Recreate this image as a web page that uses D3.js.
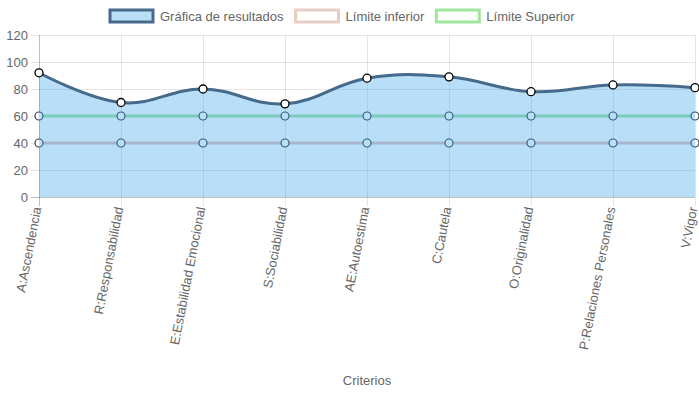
<!DOCTYPE html>
<html>
<head>
<meta charset="utf-8">
<script src="https://cdn.jsdelivr.net/npm/d3@7"></script>
<style>
  body { margin: 0; background: #fff; }
  text { font-family: "Liberation Sans", Arial, Helvetica, sans-serif; }
</style>
</head>
<body>
<div id="chart"></div>
<script>
var categories = ['A:Ascendencia', 'R:Responsabilidad', 'E:Estabilidad Emocional', 'S:Sociabilidad',
	'AE:Autoestima', 'C:Cautela', 'O:Originalidad', 'P:Relaciones Personales', 'V:Vigor'];
var resultados = [92, 70, 80, 69, 88, 89, 78, 83, 81];
var limiteInferior = [40, 40, 40, 40, 40, 40, 40, 40, 40];
var limiteSuperior = [60, 60, 60, 60, 60, 60, 60, 60, 60];
var yTicks = [0, 20, 40, 60, 80, 100, 120];
var legendNames = ['Gráfica de resultados', 'Límite inferior', 'Límite Superior'];

var W = 699, H = 393;
var margins = {top: 35, right: 4, bottom: 196, left: 39};
var fontSize = 13;

var svg = d3.select('#chart').append('svg')
	.attr('width', W)
	.attr('height', H);

var xscale = d3.scalePoint().domain(categories).range([margins.left, W - margins.right]);
var yscale = d3.scaleLinear().domain([0, 120]).range([H - margins.bottom, margins.top]);

// grid
var grid = svg.append('g');
grid.selectAll('line.h').data(yTicks).enter().append('line')
	.attr('x1', margins.left - 8)
	.attr('x2', W - margins.right)
	.attr('y1', function(d) { return yscale(d) + 0.5; })
	.attr('y2', function(d) { return yscale(d) + 0.5; })
	.style('stroke', function(d) { return d === 0 ? 'rgba(0,0,0,0.25)' : 'rgba(0,0,0,0.1)'; });
grid.selectAll('line.v').data(categories).enter().append('line')
	.attr('x1', function(d) { return xscale(d) + 0.5; })
	.attr('x2', function(d) { return xscale(d) + 0.5; })
	.attr('y1', margins.top)
	.attr('y2', yscale(0) + 9)
	.style('stroke', function(d, i) { return i === 0 ? 'rgba(0,0,0,0.25)' : 'rgba(0,0,0,0.1)'; });

// y labels
svg.append('g').selectAll('text').data(yTicks).enter().append('text')
	.attr('x', margins.left - 11)
	.attr('y', function(d) { return yscale(d); })
	.attr('dy', '0.35em')
	.attr('text-anchor', 'end')
	.style('font-size', fontSize + 'px')
	.style('fill', '#666')
	.text(function(d) { return d; });

// x labels, rotated
svg.append('g').selectAll('text').data(categories).enter().append('text')
	.attr('transform', function(d) {
		return 'translate(' + (xscale(d) - 2) + ',' + (yscale(0) + 10) + ') rotate(-79)';
	})
	.attr('text-anchor', 'end')
	.attr('dy', '0.35em')
	.style('font-size', fontSize + 'px')
	.style('fill', '#666')
	.text(function(d) { return d; });

svg.append('text')
	.attr('x', (margins.left + W - margins.right) / 2)
	.attr('y', 385)
	.attr('text-anchor', 'middle')
	.style('font-size', fontSize + 'px')
	.style('fill', '#666')
	.text('Criterios');

var curve = d3.curveCardinal.tension(-0.2);
var line = d3.line()
	.x(function(d, i) { return xscale(categories[i]); })
	.y(function(d) { return yscale(d); })
	.curve(curve);
var area = d3.area()
	.x(function(d, i) { return xscale(categories[i]); })
	.y0(yscale(0))
	.y1(function(d) { return yscale(d); })
	.curve(curve);

// limit series (drawn under the results fill)
var limits = [
	{values: limiteSuperior, color: 'rgb(160,225,165)'},
	{values: limiteInferior, color: 'rgb(228,192,188)'}
];
limits.forEach(function(s) {
	svg.append('path')
		.attr('d', line(s.values))
		.style('fill', 'none')
		.style('stroke', s.color)
		.style('stroke-width', 3);
	svg.append('g').selectAll('circle').data(s.values).enter().append('circle')
		.attr('cx', function(d, i) { return xscale(categories[i]); })
		.attr('cy', function(d) { return yscale(d); })
		.attr('r', 4)
		.style('fill', '#fff')
		.style('stroke', '#3a3a4a')
		.style('stroke-width', 1.2);
});

svg.append('path')
	.attr('d', area(resultados))
	.style('fill', 'rgba(54,162,235,0.35)');

svg.append('path')
	.attr('d', line(resultados))
	.style('fill', 'none')
	.style('stroke', '#466a8b')
	.style('stroke-width', 3);

svg.append('g').selectAll('circle').data(resultados).enter().append('circle')
	.attr('cx', function(d, i) { return xscale(categories[i]); })
	.attr('cy', function(d) { return yscale(d); })
	.attr('r', 4)
	.style('fill', '#fff')
	.style('stroke', '#000')
	.style('stroke-width', 1.3);

// legend
var legendStyles = [
	{fill: 'rgba(54,162,235,0.35)', stroke: '#466a8b'},
	{fill: 'rgba(255,255,255,0)', stroke: 'rgb(232,205,198)'},
	{fill: 'rgba(255,255,255,0)', stroke: 'rgb(160,230,160)'}
];
var lx = 110;
legendNames.forEach(function(name, i) {
	var g = svg.append('g');
	g.append('rect')
		.attr('x', lx)
		.attr('y', 10)
		.attr('width', 43)
		.attr('height', 12)
		.style('fill', legendStyles[i].fill)
		.style('stroke', legendStyles[i].stroke)
		.style('stroke-width', 3);
	var t = g.append('text')
		.attr('x', lx + 50)
		.attr('y', 16)
		.attr('dy', '0.35em')
		.style('font-size', fontSize + 'px')
		.style('fill', '#666')
		.text(name);
	lx += 50 + t.node().getComputedTextLength() + 12;
});
</script>
</body>
</html>
